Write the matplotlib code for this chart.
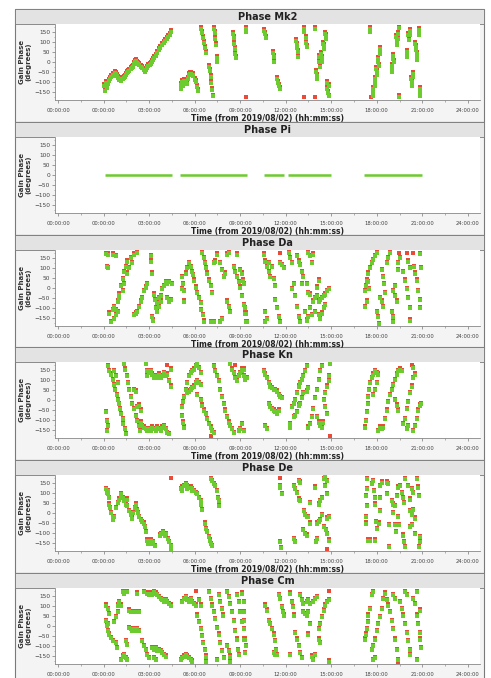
import matplotlib.pyplot as plt
from matplotlib.patches import Rectangle
from matplotlib.ticker import MultipleLocator
import numpy as np

W, H = 491, 678

hours = [-3, 0, 3, 6, 9, 12, 15, 18, 21, 24]
hour_labels = ["00:00:00", "00:00:00", "03:00:00", "06:00:00", "09:00:00",
               "12:00:00", "15:00:00", "18:00:00", "21:00:00", "24:00:00"]
phase_ticks = [150, 100, 50, 0, -50, -100, -150]
titles = ["Phase Mk2", "Phase Pi", "Phase Da", "Phase Kn", "Phase De", "Phase Cm"]
xlabel = "Time (from 2019/08/02) (hh:mm:ss)"

# time in hours, LL (green) and RR (red) gain phase in degrees
mk2_time = [0.05, 0.10, 0.15, 0.22, 0.30, 0.37, 0.45, 0.52, 0.59, 0.66, 0.73, 0.81, 0.88, 0.95, 1.03, 1.10, 1.18, 1.25, 1.32, 1.40,
            1.46, 1.55, 1.62, 1.68, 1.78, 1.85, 1.92, 2.00, 2.07, 2.12, 2.20, 2.28, 2.35, 2.45, 2.55, 2.65, 2.72, 2.80, 2.88, 2.95,
            3.05, 3.12, 3.20, 3.28, 3.35, 3.45, 3.55, 3.65, 3.75, 3.85, 3.95, 4.05, 4.15, 4.25, 4.35, 4.45,
            5.08, 5.12, 5.19, 5.25, 5.32, 5.40, 5.48, 5.55, 5.62, 5.70, 5.78, 5.86, 5.92, 6.00, 6.08, 6.15, 6.22,
            6.45, 6.50, 6.55, 6.60, 6.65, 6.72, 6.97, 7.00, 7.05, 7.08, 7.12, 7.18,
            7.30, 7.33, 7.37, 7.40, 7.48, 7.50, 8.52, 8.56, 8.60, 8.64, 8.68, 8.72,
            9.38, 9.40, 9.40, 10.60, 10.66, 10.72, 11.15, 11.20, 11.25, 11.45, 11.50, 11.55, 11.60,
            12.70, 12.73, 12.76, 12.78, 12.80, 13.20, 13.22, 13.20, 13.33, 13.36, 13.40, 13.94, 13.94,
            14.00, 14.03, 14.05, 14.18, 14.22, 14.25, 14.35, 14.38, 14.42, 14.48, 14.52, 14.55,
            14.60, 14.63, 14.65, 14.72, 14.75, 14.78, 14.82, 14.82,
            17.55, 17.58, 17.60, 17.72, 17.75, 17.78, 17.86, 17.88, 17.90, 17.98, 18.00, 18.03,
            18.08, 18.10, 18.12, 18.18, 18.21, 18.23, 18.97, 19.00, 19.03, 19.08, 19.10, 19.12,
            19.28, 19.30, 19.33, 19.40, 19.42, 19.45, 19.45, 19.98, 20.00, 20.02, 20.07, 20.10, 20.16, 20.18,
            20.28, 20.30, 20.32, 20.38, 20.40, 20.55, 20.57, 20.60, 20.62, 20.64, 20.66,
            20.75, 20.78, 20.80, 20.83, 20.86, 20.88]
mk2_ll = [-120, -145, -105, -130, -110, -95, -85, -75, -65, -70, -55, -60, -70, -80, -90, -85, -95, -85, -80, -75,
          -65, -55, -50, -45, -35, -30, -25, -10, 0, 5, -5, -10, -15, -25, -30, -40, -50, -40, -30, -20,
          -15, -10, 0, 10, 20, 30, 45, 60, 70, 85, 95, 105, 115, 125, 135, 150,
          -115, -135, -100, -120, -95, -100, -110, -85, -65, -60, -60, -65, -70, -90, -100, -125, -145,
          165, 145, 120, 95, 70, 45, -25, -45, -75, -105, -140, -170,
          165, 145, 115, 85, 20, 0, 143, 120, 93, 68, 43, 20,
          165, 150, None, 155, 140, 120, 45, 25, 2, -85, -105, -120, -135,
          105, 85, 70, 53, 25, 165, 150, None, 120, 95, 75, 165, None,
          -50, -70, -85, 25, 0, -25, 43, 20, 2, 93, 80, 68,
          143, 130, 118, -105, -135, -155, -170, -120,
          165, 150, None, -135, -155, -168, -85, -105, -118, -35, -50, -65,
          17, 0, -20, 68, 55, 43, -20, -35, -50, 30, 15, 2,
          125, 105, 85, 143, 118, 172, -172, 50, 35, 25, 135, 110, 155, 138,
          -85, -100, -118, -60, -75, 93, 75, 60, 43, 25, 10,
          160, 145, 138, -135, -155, -168]
mk2_rr = [-108, -133, -93, -118, -98, -83, -73, -63, -53, -58, -43, -48, -58, -68, -78, -73, -83, -73, -68, -63,
          -53, -43, -38, -33, -23, -18, -13, 2, 12, 17, 7, 2, -3, -13, -18, -28, -38, -28, -18, -8,
          -3, 2, 12, 22, 32, 42, 57, 72, 82, 97, 107, 117, 127, 137, 147, 160,
          -105, -125, -90, -110, -85, -90, -100, -75, -55, -50, -50, -55, -60, -80, -90, -115, -135,
          175, 155, 130, 105, 80, 55, -15, -35, -65, -95, -130, -162,
          175, 155, 125, 95, 30, 10, 153, 130, 103, 78, 53, 30,
          175, 160, -172, 165, 150, 130, 55, 35, 12, -75, -95, -110, -125,
          115, 95, 80, 63, 35, 175, 160, -172, 130, 105, 85, 175, -172,
          -40, -60, -75, 35, 10, -15, 53, 30, 12, 103, 90, 78,
          153, 140, 128, -95, -125, -145, -162, -110,
          175, 160, -172, -125, -145, -160, -75, -95, -108, -25, -40, -55,
          27, 10, -10, 78, 65, 53, -10, -25, -40, 40, 25, 12,
          135, 115, 95, 153, 128, 178, -165, 60, 45, 35, 145, 120, 165, 148,
          -75, -90, -108, -50, -65, 103, 85, 70, 53, 35, 20,
          170, 155, 148, -125, -145, -160]

pi_start = [0.11, 5.05, 10.57, 12.15, 17.15]
pi_end = [4.52, 9.43, 11.90, 14.96, 20.97]

da_time = [0.15, 0.26, 0.20, 0.28, 0.59, 0.81,
           0.37, 0.59, 0.70, 0.81, 0.92, 1.03, 1.14, 1.25, 1.36, 1.46, 1.57, 1.79, 2.01, 2.19,
           0.48, 0.70, 0.81, 0.92, 1.03, 1.25, 1.36, 1.53, 1.68, 1.90,
           2.01, 2.12, 2.23, 2.34, 2.45, 2.56, 2.67, 2.78, 2.89,
           3.11, 3.15, 3.22, 3.22, 3.28, 3.32, 3.37,
           3.43, 3.54, 3.65, 3.54, 3.65, 3.76,
           3.76, 3.87, 3.98, 4.09, 4.20, 4.20, 4.31, 4.42, 4.31, 4.53,
           5.19, 5.25, 5.29, 5.40, 5.51, 5.62, 5.73, 5.84, 5.90,
           5.95, 6.06, 6.17, 6.28, 5.29, 5.19,
           6.39, 6.45, 6.54, 6.61,
           6.50, 6.61, 6.65, 6.72, 6.83, 6.94, 7.05, 7.15,
           7.26, 7.37, 7.48, 7.26, 7.05, 7.70, 7.81, 7.70, 7.81, 7.92, 8.03,
           8.14, 8.25, 8.14, 8.25, 8.36,
           8.58, 8.69, 8.80, 8.90, 8.80,
           9.01, 9.12, 9.23, 9.34, 9.40,
           9.02, 9.13, 9.19, 9.24, 9.34, 9.41, 9.45,
           10.59, 10.66, 10.77, 10.88, 10.99, 10.66, 10.77, 10.66,
           10.88, 11.10, 11.20, 11.31, 11.31, 11.42, 11.53, 11.60,
           11.64, 11.75, 11.86, 11.64,
           12.19, 12.30, 12.41,
           12.52, 12.41, 12.63, 12.74, 12.85, 12.91,
           12.74, 12.85, 12.96, 13.07, 13.17, 13.07,
           13.50, 13.61, 13.72, 13.83,
           13.28, 13.39, 13.50,
           13.61, 13.83, 13.94, 14.05, 14.16, 14.27, 14.38, 14.49, 14.60, 14.71, 14.82,
           13.72, 13.94, 14.16, 14.27, 14.38, 14.49, 14.60,
           13.39, 13.50, 13.61, 14.05, 14.16,
           17.22, 17.29, 17.38, 17.44, 17.55, 17.66, 17.77, 17.88, 17.99,
           17.22, 17.33, 17.44, 17.51,
           17.99, 18.10, 18.16,
           18.21, 18.32, 18.43,
           18.32, 18.43, 18.47, 18.54,
           18.65, 18.76, 18.87,
           18.97, 19.04, 19.08,
           19.08, 19.19, 19.30, 19.19,
           19.41, 19.41, 19.48, 19.52,
           19.74, 19.85, 19.96, 20.07, 20.18, 20.22,
           19.96, 20.07, 20.18,
           20.40, 20.44, 20.51, 20.62, 20.73, 20.83, 20.88,
           20.83, 20.94]
da_ll = [170, 168, 107, 100, 168, 160,
         -126, -109, -92, -109, -66, -31, 12, 47, 81, 107, 133, 151, 168, 177,
         -170, -152, -135, -118, -49, -14, 21, 73, 99, 125,
         -135, -126, -118, -92, -66, -49, -14, 3, 21,
         160, 133, 73, -144, -161, -31, -57,
         -100, -75, -49, -118, -92, -66,
         -40, -5, 12, 29, 21, -49, -66, -57, 29, 21,
         55, 21, -14, 73, 99, 125, 107, 81, 64,
         38, 3, -22, -49, -66, -5,
         -75, -109, -135, -166,
         177, 151, 125, 99, 73, 38, 12, -22,
         125, 133, 168, -170, -170, -170, -152, 125, 90, 55, 73,
         168, 177, -66, -92, -118,
         107, 81, 55, 29, 168,
         3, -40, -83, -126, -170,
         90, 73, 38, 21, -100, -126, -170,
         168, 133, 107, 81, 55, -118, -152, -170,
         125, 107, 47, 12, -57, -100, -144, -170,
         None, 116, 99, 125,
         177, 151, 125,
         21, -5, -40, -92, -144, -170,
         160, 133, 116, 81, 55, 21,
         177, 160, 125, 168,
         -118, -161, -144,
         -100, -66, -49, -40, -66, -57, -49, -40, -31, -14, -5,
         -135, -118, -135, -152, -126, -100, -83,
         21, -22, -31, 3, 38,
         -14, 12, 38, 73, 99, 125, 142, 160, 177,
         -92, -66, 29, -5,
         -118, -144, -178,
         -49, -66, -92,
         90, 55, 21, -22,
         125, 151, 177,
         -118, -144, -170,
         -14, -40, -66, 12,
         90, 125, None, 151,
         81, 38, -5, -49, -100, -161,
         None, 133, 99,
         None, 107, 73, 38, -14, -57, -100,
         172, 99]
da_rr = [176, 174, 113, 106, 174, 166,
         -120, -103, -86, -103, -60, -25, 18, 53, 87, 113, 139, 157, 174, 180,
         -164, -146, -129, -112, -43, -8, 27, 79, 105, 131,
         -129, -120, -112, -86, -60, -43, -8, 9, 27,
         166, 139, 79, -138, -155, -25, -51,
         -94, -69, -43, -112, -86, -60,
         -34, 1, 18, 35, 27, -43, -60, -51, 35, 27,
         61, 27, -8, 79, 105, 131, 113, 87, 70,
         44, 9, -16, -43, -60, 1,
         -69, -103, -129, -160,
         180, 157, 131, 105, 79, 44, 18, -16,
         131, 139, 174, -164, -164, -164, -146, 131, 96, 61, 79,
         174, 180, -60, -86, -112,
         113, 87, 61, 35, 174,
         9, -34, -77, -120, -164,
         96, 79, 44, 27, -94, -120, -164,
         174, 139, 113, 87, 61, -112, -146, -164,
         131, 113, 53, 18, -51, -94, -138, -164,
         177, 122, 105, 131,
         180, 157, 131,
         27, 1, -34, -86, -138, -164,
         166, 139, 122, 87, 61, 27,
         180, 166, 131, 174,
         -112, -155, -138,
         -94, -60, -43, -34, -60, -51, -43, -34, -25, -8, 1,
         -129, -112, -129, -146, -120, -94, -77,
         27, -16, -25, 9, 44,
         -8, 18, 44, 79, 105, 131, 148, 166, 180,
         -86, -60, 35, 1,
         -112, -138, -172,
         -43, -60, -86,
         96, 61, 27, -16,
         131, 157, 180,
         -112, -138, -164,
         -8, -34, -60, 18,
         96, 131, 177, 157,
         87, 44, 1, -43, -94, -155,
         177, 139, 105,
         177, 113, 79, 44, -8, -51, -94,
         178, 105]

kn_time = [0.15, 0.20, 0.26, 0.20,
           0.26, 0.37, 0.48, 0.59, 0.70, 0.76, 0.87, 0.92, 1.03, 1.09, 1.18, 1.25, 1.31, 1.40, 1.46,
           0.70, 0.81, 0.92,
           1.36, 1.42, 1.53, 1.62, 1.68, 1.79, 1.90, 2.01, 2.12, 2.23, 2.34, 2.41,
           2.01, 2.12, 2.23, 2.34, 2.45,
           2.45, 2.56, 2.67, 2.78, 2.89, 3.00, 3.11, 3.22, 3.32, 3.43, 3.54, 3.65, 3.76, 3.87, 3.98, 4.09, 4.20, 4.31,
           2.78, 2.84, 2.89,
           3.00, 3.11, 3.22, 3.32, 3.43, 3.54, 3.65, 3.76, 3.87, 3.98, 4.09, 4.20, 4.31, 4.42, 4.46, 4.20,
           5.19, 5.25, 5.29, 5.40, 5.51, 5.62, 5.73, 5.84, 5.95, 6.06, 6.17, 6.28, 6.39,
           5.19, 5.25, 5.29,
           5.51, 5.62, 5.73, 5.84, 5.95, 6.06, 6.17, 6.28, 6.39,
           6.17, 6.39, 6.50, 6.61, 6.72, 6.83, 6.94, 7.05, 7.15,
           7.05, 7.26,
           7.26, 7.37, 7.48, 7.59, 7.70, 7.81, 7.92, 8.03, 8.14, 8.25, 8.36, 8.47, 8.58,
           8.36, 8.47, 8.58, 8.69, 8.80, 8.90, 9.01, 9.12, 9.23, 8.69,
           8.90, 9.01, 9.45,
           9.13, 9.24, 9.34, 9.13, 9.24,
           10.55, 10.66, 10.77, 10.88, 10.99, 11.10, 11.20, 11.31, 11.42, 11.53, 11.64, 11.75,
           10.88, 10.99, 11.10, 11.20, 11.31, 11.42, 11.53,
           10.66, 10.77,
           12.26, 12.30, 12.41, 12.52, 12.63, 12.74, 12.85, 12.96, 13.07, 13.17, 13.28, 13.39,
           12.52, 12.63, 12.74, 12.85, 12.96, 13.07, 13.17,
           13.39, 13.50,
           13.50, 13.61, 13.72, 13.83, 13.94, 14.05, 14.16, 14.27, 14.38,
           14.05, 14.16, 14.27, 14.38, 14.44,
           14.49, 14.60, 14.71, 14.82, 14.88, 14.93,
           14.60, 14.71, 14.93,
           17.22, 17.29, 17.33, 17.40, 17.44, 17.51, 17.55, 17.66, 17.77, 17.88, 17.99, 18.10,
           17.77, 17.88, 17.99,
           18.10, 18.21, 18.32, 18.43, 18.54, 18.65, 18.76, 18.87, 18.97, 19.08, 19.19, 19.30, 19.41, 19.52, 19.63,
           19.19, 19.30, 19.41,
           19.74, 19.85, 19.96, 20.07, 20.18, 20.29, 20.40, 20.51,
           20.29, 20.40,
           19.96, 20.07,
           20.40, 20.51, 20.62, 20.73, 20.83, 20.94]
kn_ll = [-60, -102, -128, -153,
         170, 145, 128, 102, 77, 51, 26, 0, -17, -43, -68, -94, -119, -145, -170,
         145, 119, 85,
         179, 153, 119, 85, 51, 17, -17, -43, -77, -102, -128, -153,
         51, 43, -34, -26, -51,
         -111, -128, -136, -145, -153, -145, -153, -136, -145, -153, -136, -145, -153, -136, -128, -145, -162, -170,
         179, 145, 119,
         136, 145, 128, 111, 119, 111, 128, 111, 119, 136, 119, 128, 94, 68, 153, None,
         -34, -9, 17, 51, 85, 119, 136, 145, 153, 170, 179, 162, 136,
         -77, -111, -136,
         34, 43, 51, 60, 68, 85, 94, 85, 77,
         26, 0, -26, -51, -68, -94, -119, -136, -153,
         None, -162,
         170, 145, 119, 94, 51, 17, -17, -51, -85, -111, -128, -145, -162,
         179, 153, 136, 111, 94, 119, 136, 145, 153, None,
         -153, -145, 111,
         153, 119, 102, -119, -153,
         145, 128, 111, 85, 68, 60, 51, 51, 43, 26, 17, 9,
         -17, -34, -43, -51, -60, -68, -51,
         -128, -145,
         -136, -119, -34, -17, 0, 34, 68, 85, 102, 119, 145, 170,
         -85, -77, -60, -26, -17, 9, 34,
         43, 60,
         -136, -119, -85, -43, 9, 51, 102, 145, 170,
         -85, -111, -128, -136, -111,
         0, 34, 68, 94, 119, 179,
         -34, -68, None,
         -136, -102, -60, -17, 17, 51, 85, 111, 128, 145, 136, 128,
         26, 51, 85,
         -153, -136, -145, -136, -94, -51, -9, 26, 51, 77, 102, 128, 145, 153, 145,
         0, -26, -51,
         -119, -94, -43, -9, 34, 68, 111, 128,
         None, 162,
         -145, -128,
         -153, -128, -94, -51, -26, -17]
kn_rr = [-54, -96, -122, -147,
         176, 151, 134, 108, 83, 57, 32, 6, -11, -37, -62, -88, -113, -139, -164,
         151, 125, 91,
         180, 159, 125, 91, 57, 23, -11, -37, -71, -96, -122, -147,
         57, 49, -28, -20, -45,
         -105, -122, -130, -139, -147, -139, -147, -130, -139, -147, -130, -139, -147, -130, -122, -139, -156, -164,
         180, 151, 125,
         142, 151, 134, 117, 125, 117, 134, 117, 125, 142, 125, 134, 100, 74, 159, 177,
         -28, -3, 23, 57, 91, 125, 142, 151, 159, 176, 180, 168, 142,
         -71, -105, -130,
         40, 49, 57, 66, 74, 91, 100, 91, 83,
         32, 6, -20, -45, -62, -88, -113, -130, -147,
         -177, -156,
         176, 151, 125, 100, 57, 23, -11, -45, -79, -105, -122, -139, -156,
         180, 159, 142, 117, 100, 125, 142, 151, 159, 177,
         -147, -139, 117,
         159, 125, 108, -113, -147,
         151, 134, 117, 91, 74, 66, 57, 57, 49, 32, 23, 15,
         -11, -28, -37, -45, -54, -62, -45,
         -122, -139,
         -130, -113, -28, -11, 6, 40, 74, 91, 108, 125, 151, 176,
         -79, -71, -54, -20, -11, 15, 40,
         49, 66,
         -130, -113, -79, -37, 15, 57, 108, 151, 176,
         -79, -105, -122, -130, -105,
         6, 40, 74, 100, 125, 180,
         -28, -62, -177,
         -130, -96, -54, -11, 23, 57, 91, 117, 134, 151, 142, 134,
         32, 57, 91,
         -147, -130, -139, -130, -88, -45, -3, 32, 57, 83, 108, 134, 151, 159, 151,
         6, -20, -45,
         -113, -88, -37, -3, 40, 74, 117, 134,
         177, 168,
         -139, -122,
         -147, -122, -88, -45, -20, -11]

de_time = [0.15, 0.20, 0.26, 0.28, 0.37,
           0.37, 0.43, 0.52, 0.59, 0.65, 0.70,
           0.81, 0.92, 1.03, 1.14, 1.18, 1.25, 1.36, 1.46, 1.53,
           1.57, 1.68, 1.79, 1.86, 1.97, 2.06, 2.12, 2.19, 2.28, 2.34, 2.45, 2.56, 2.67, 2.73, 2.80,
           2.89, 2.95, 3.02, 3.11, 3.22, 3.28, 3.37,
           3.72, 3.81, 3.92, 4.02, 4.13, 4.24, 4.31, 4.42, 4.46, 4.46,
           5.08, 5.19, 5.29, 5.40, 5.51, 5.62, 5.73, 5.84, 5.95, 6.06, 6.17, 6.28, 6.39, 6.45, 6.50,
           5.19, 5.51, 5.84,
           6.67, 6.74, 6.83, 6.94, 7.00, 7.09, 7.15,
           7.05, 7.15, 7.26, 7.37, 7.48, 7.53, 7.59, 7.59,
           11.60, 11.60, 11.64, 11.75, 11.60, 11.69,
           12.52, 12.63, 12.74, 12.85, 12.91, 12.52, 12.63, 12.85, 12.96,
           13.22, 13.28, 13.39, 13.50, 13.17, 13.28, 13.39, 13.61, 13.61,
           13.94, 14.05, 14.16, 14.27, 14.38, 14.05, 14.01,
           14.16, 14.27, 14.38, 14.49, 14.60, 14.71, 14.60, 14.75,
           14.49, 14.66, 14.75, 14.75, 14.82, 14.82, 14.75,
           17.33, 17.33, 17.29, 17.33, 17.29, 17.29, 17.44, 17.55,
           17.66, 17.77, 17.81, 17.88, 17.88, 17.95, 17.99, 17.88,
           18.21, 18.21, 18.32, 18.21, 18.17,
           18.65, 18.76, 18.65, 18.80, 18.80,
           18.97, 19.08, 19.19, 19.08, 19.19, 19.26,
           19.30, 19.41, 19.52, 19.63, 19.41, 19.48,
           19.74, 19.78, 19.85, 19.74, 19.78, 19.85,
           20.07, 20.18, 20.22, 20.29, 20.35, 20.40, 20.18, 20.29, 20.29, 20.40,
           20.62, 20.73, 20.79, 20.83, 20.88, 20.79, 20.51, 20.51]
de_ll = [119, 102, 111, 94, 77,
         43, 26, 0, -17, -34, -17,
         26, 51, 68, 85, 94, 77, 60, 43, 68,
         34, 9, -9, -26, 0, 26, 43, 17, 0, -17, -34, -43, -51, -68, -94,
         -136, -153, -145, -136, -153, -145, -162,
         -111, -102, -94, -111, -102, -128, -145, -162, -179, None,
         119, 128, 136, 145, 136, 128, 128, 119, 111, 102, 94, 77, 60, 43, 17,
         111, 119, 111,
         -51, -77, -94, -119, -136, -153, -162,
         170, 162, 145, 136, 111, 77, 60, 34,
         None, 136, 128, 94, -145, -175,
         136, 119, 102, 68, 60, -128, -145, 162, 153,
         9, -9, -17, -17, -85, -102, -111, 51, -51,
         128, -51, -43, -34, -9, -128, -145,
         43, 60, 77, 170, 179, 162, 136, 94,
         -68, -85, -102, -26, -17, -136, None,
         170, 119, 85, 34, -17, -51, -136, -136,
         145, 162, 111, 77, 43, -43, -77, -136,
         136, 77, 153, 9, -51,
         153, 145, 94, -60, -170,
         60, 43, 34, 0, -60, -94,
         85, 128, 136, 102, -17, -60,
         77, 51, 170, -111, -145, -170,
         136, 68, 9, 0, -9, 17, -68, -60, 119, 102,
         170, 128, 85, -119, -145, -170, -26, -102]
de_rr = [125, 108, 117, 100, 83,
         49, 32, 6, -11, -28, -11,
         32, 57, 74, 91, 100, 83, 66, 49, 74,
         40, 15, -3, -20, 6, 32, 49, 23, 6, -11, -28, -37, -45, -62, -88,
         -130, -147, -139, -130, -147, -139, -156,
         -105, -96, -88, -105, -96, -122, -139, -156, -173, 177,
         125, 134, 142, 151, 142, 134, 134, 125, 117, 108, 100, 83, 66, 49, 23,
         117, 125, 117,
         -45, -71, -88, -113, -130, -147, -156,
         176, 168, 151, 142, 117, 83, 66, 40,
         177, 142, 134, 100, -139, -169,
         142, 125, 108, 74, 66, -122, -139, 168, 159,
         15, -3, -11, -11, -79, -96, -105, 57, -45,
         134, -45, -37, -28, -3, -122, -139,
         49, 66, 83, 176, 180, 168, 142, 100,
         -62, -79, -96, -20, -11, -130, -177,
         176, 125, 91, 40, -11, -45, -130, -130,
         151, 168, 117, 83, 49, -37, -71, -130,
         142, 83, 159, 15, -45,
         159, 151, 100, -54, -164,
         66, 49, 40, 6, -54, -88,
         91, 134, 142, 108, -11, -54,
         83, 57, 176, -105, -139, -164,
         142, 74, 15, 6, -3, 23, -62, -54, 125, 108,
         176, 134, 91, -113, -139, -164, -20, -96]

cm_time = [0.15, 0.26, 0.37, 0.20, 0.28, 0.37, 0.48, 0.59, 0.15, 0.26,
           0.70, 0.81, 0.92, 0.96, 0.81, 0.87,
           1.25, 1.36, 1.57, 1.03, 1.14, 1.46, 1.57,
           1.14, 1.25, 1.36, 1.46, 1.57,
           1.68, 1.79, 1.90, 2.01, 2.12, 2.23, 2.34,
           1.68, 1.79, 1.90, 2.01, 2.12, 2.23, 2.34, 2.23,
           2.56, 2.67, 2.78, 2.89, 3.00,
           2.67, 2.89, 3.00, 3.11, 3.22, 3.32, 3.43, 3.54, 3.65, 3.76, 3.87, 3.98, 4.09, 4.20, 4.31, 4.42,
           3.22, 3.32, 3.43, 3.54, 3.65, 3.76, 3.87, 3.98, 4.09, 3.32, 3.43,
           5.08, 5.19, 5.29, 5.40, 5.51, 5.62, 5.73, 5.84,
           5.19, 5.29, 5.40, 5.51, 5.62, 5.73, 5.84, 5.95, 6.06, 6.12,
           6.17, 6.28, 6.39, 6.50, 6.56, 6.65, 6.72, 6.78, 6.28, 6.39,
           6.94, 7.05, 7.15, 7.26, 7.37, 7.48, 7.59, 7.70, 7.81, 7.92,
           7.59, 7.70, 7.81, 7.88, 7.48,
           8.14, 8.25, 8.36, 8.47, 8.58, 8.69, 8.80, 8.84, 8.90,
           8.80, 8.90, 9.01, 9.12, 9.23, 9.34, 9.40,
           8.14, 8.25, 8.36, 8.36,
           9.13, 9.24, 9.28, 9.24, 9.28, 9.34,
           10.66, 10.77, 10.88, 10.99, 11.10, 11.20, 11.31, 11.38, 11.42,
           11.53, 11.64, 11.75, 11.82, 11.86, 11.20, 11.31,
           12.30, 12.41, 12.47, 12.52, 12.63, 12.74, 12.85, 12.96, 13.07, 12.26,
           12.96, 13.07, 13.17, 13.39, 13.50, 13.61,
           13.17, 13.28, 13.39, 13.50, 13.61, 13.50,
           13.83, 13.94, 14.05, 13.72, 13.83, 13.94,
           14.16, 14.27, 14.38, 14.49, 14.60, 14.71, 14.82, 14.16, 14.27,
           14.82, 14.88,
           17.22, 17.29, 17.33, 17.40, 17.44, 17.55, 17.66, 17.73,
           17.66, 17.77, 17.88, 17.99, 18.10, 18.21, 18.32, 18.43, 18.54, 17.77, 17.88,
           18.65, 18.76, 18.87, 18.97, 19.08, 19.19, 19.30, 19.41, 19.08, 19.19,
           19.41,
           19.52, 19.63, 19.74, 19.85, 19.96, 20.07, 20.18, 20.22, 19.85, 19.96,
           20.40, 20.51, 20.62, 20.73, 20.83, 20.88, 20.94, 20.62, 20.62, 20.83]
cm_ll = [103, 86, 61, 2, -24, -41, -58, -75, 27, 10,
         19, 44, 69, 103, -83, -108,
         171, 163, 171, 120, 103, -75, -92,
         -168, -151, -142, -159, -168,
         78, 69, 72, 69, 69, 72, 69,
         -7, -15, -24, -15, -24, -15, -24, 163,
         -75, -100, -117, -142, -159,
         171, 163, 154, 163, 154, 171, 163, 154, 146, 137, 129, 120, 129, 120, 112, 103,
         -108, -117, -108, -125, -117, -125, -134, -142, -151, -159, -168,
         -168, -159, -151, -142, -151, -159, -168, -176,
         120, 137, 146, 129, 120, 137, 120, 112, 103, None,
         53, 19, -15, -49, -83, -117, -151, -176, 129, 103,
         171, 137, 103, 69, 36, -7, -41, -83, -125, -159,
         154, 120, 86, 53, -168,
         171, 146, 112, 69, 27, -24, -66, -117, -142,
         154, 120, 69, 19, -15, -66, -100,
         -100, -125, -151, -176,
         163, 120, 69, 27, -66, -134,
         103, 78, 27, 10, -15, -41, -75, -117, -142,
         154, 137, 95, 69, 53, -134, -142,
         163, 120, 95, 53, -32, -66, -100, -134, -159, -142,
         154, 129, 112, 120, 129, 112,
         69, 61, 53, 69, 10, -41,
         120, 137, 146, -151, -168, -142,
         -15, 10, 44, 78, 103, 120, 129, -66, -83,
         None, -176,
         -66, -41, -15, 19, 53, 86, 154, 171,
         -117, -100, -66, -24, 10, 44, 86, 137, 163, -168, -159,
         129, 103, 69, 27, -15, -66, -117, -168, 154, 137,
         None,
         120, 86, 53, 10, -32, -75, -117, -142, 171, 154,
         137, 112, 53, 10, -32, -66, -108, -168, 171, 78]
cm_rr = [109, 92, 67, 8, -18, -35, -52, -69, 33, 16,
         25, 50, 75, 109, -77, -102,
         177, 169, 177, 126, 109, -69, -86,
         -162, -145, -136, -153, -162,
         84, 75, 78, 75, 75, 78, 75,
         -1, -9, -18, -9, -18, -9, -18, 169,
         -69, -94, -111, -136, -153,
         177, 169, 160, 169, 160, 177, 169, 160, 152, 143, 135, 126, 135, 126, 118, 109,
         -102, -111, -102, -119, -111, -119, -128, -136, -145, -153, -162,
         -162, -153, -145, -136, -145, -153, -162, -170,
         126, 143, 152, 135, 126, 143, 126, 118, 109, 177,
         59, 25, -9, -43, -77, -111, -145, -170, 135, 109,
         177, 143, 109, 75, 42, -1, -35, -77, -119, -153,
         160, 126, 92, 59, -162,
         177, 152, 118, 75, 33, -18, -60, -111, -136,
         160, 126, 75, 25, -9, -60, -94,
         -94, -119, -145, -170,
         169, 126, 75, 33, -60, -128,
         109, 84, 33, 16, -9, -35, -69, -111, -136,
         160, 143, 101, 75, 59, -128, -136,
         169, 126, 101, 59, -26, -60, -94, -128, -153, -136,
         160, 135, 118, 126, 135, 118,
         75, 67, 59, 75, 16, -35,
         126, 143, 152, -145, -162, -136,
         -9, 16, 50, 84, 109, 126, 135, -60, -77,
         177, -170,
         -60, -35, -9, 25, 59, 92, 160, 177,
         -111, -94, -60, -18, 16, 50, 92, 143, 169, -162, -153,
         135, 109, 75, 33, -9, -60, -111, -162, 160, 143,
         -177,
         126, 92, 59, 16, -26, -69, -111, -136, 177, 160,
         143, 118, 59, 16, -26, -60, -102, -162, 177, 84]

GREEN = "#6ccb2e"
RED = "#ec4a38"
panel_tops = [9, 122, 235, 347, 460, 573]


def fig_box(x0, y0, x1, y1):
    # pixel box (top-left origin) -> figure fraction rect
    return (x0 / W, 1 - y1 / H, (x1 - x0) / W, (y1 - y0) / H)


fig = plt.figure(figsize=(W / 100, H / 100), dpi=100)
fig.patch.set_facecolor("white")

for top, title in zip(panel_tops, titles):
    x, y, w, h = fig_box(15, top, 484, top + 113)
    fig.patches.append(Rectangle((x, y), w, h, transform=fig.transFigure,
                                 facecolor="#f4f4f4", edgecolor="#7a7a7a", lw=0.8, zorder=-5))
    x, y, w, h = fig_box(15, top, 484, top + 15)
    fig.patches.append(Rectangle((x, y), w, h, transform=fig.transFigure,
                                 facecolor="#e3e3e3", edgecolor="#7a7a7a", lw=0.6, zorder=-4))
    fig.text((55 + 480) / 2 / W, 1 - (top + 8) / H, title, ha="center", va="center",
             fontsize=7, fontweight="bold", color="#222222")

series = {
    "Phase Mk2": (mk2_time, mk2_ll, mk2_rr),
    "Phase Da": (da_time, da_ll, da_rr),
    "Phase Kn": (kn_time, kn_ll, kn_rr),
    "Phase De": (de_time, de_ll, de_rr),
    "Phase Cm": (cm_time, cm_ll, cm_rr),
}

for top, title in zip(panel_tops, titles):
    ax = fig.add_axes(fig_box(55, top + 15, 480, top + 91))
    ax.set_zorder(2)
    ax.set_facecolor("white")

    if title == "Phase Pi":
        ax.hlines([0] * len(pi_start), pi_start, pi_end, color=GREEN, lw=1.8)
    else:
        t, ll, rr = series[title]
        t = np.array(t, dtype=float)
        ax.plot(t, np.array(rr, dtype=float), ls="none", marker="s", ms=2.4,
                mew=0, color=RED, zorder=2)
        ax.plot(t, np.array(ll, dtype=float), ls="none", marker="s", ms=2.4,
                mew=0, color=GREEN, zorder=3)

    ax.set_xlim(-3.2, 24.8)
    ax.set_ylim(-188, 191)
    ax.set_xticks(hours)
    ax.set_xticklabels(hour_labels)
    ax.xaxis.set_minor_locator(MultipleLocator(1.5))
    ax.set_yticks(phase_ticks)
    ax.yaxis.set_minor_locator(MultipleLocator(25))
    ax.tick_params(axis="x", which="major", labelsize=3.8, length=2.5, width=0.5,
                   color="#777777", labelcolor="#444444", pad=3)
    ax.tick_params(axis="x", which="minor", length=1.5, width=0.4, color="#777777")
    ax.tick_params(axis="y", which="major", labelsize=4.2, length=2.0, width=0.5,
                   color="#777777", labelcolor="#444444", pad=1.5)
    ax.tick_params(axis="y", which="minor", length=1.0, width=0.4, color="#777777")
    for side in ["top", "right"]:
        ax.spines[side].set_visible(False)
    for side in ["left", "bottom"]:
        ax.spines[side].set_color("#888888")
        ax.spines[side].set_linewidth(0.6)

    ax.set_xlabel(xlabel, fontsize=5.5, fontweight="bold", color="#222222", labelpad=1)
    ax.set_ylabel("Gain Phase\n(degrees)", fontsize=5, fontweight="bold",
                  color="#333333", labelpad=2, linespacing=1.0)

fig.savefig("out.png", dpi=100)
